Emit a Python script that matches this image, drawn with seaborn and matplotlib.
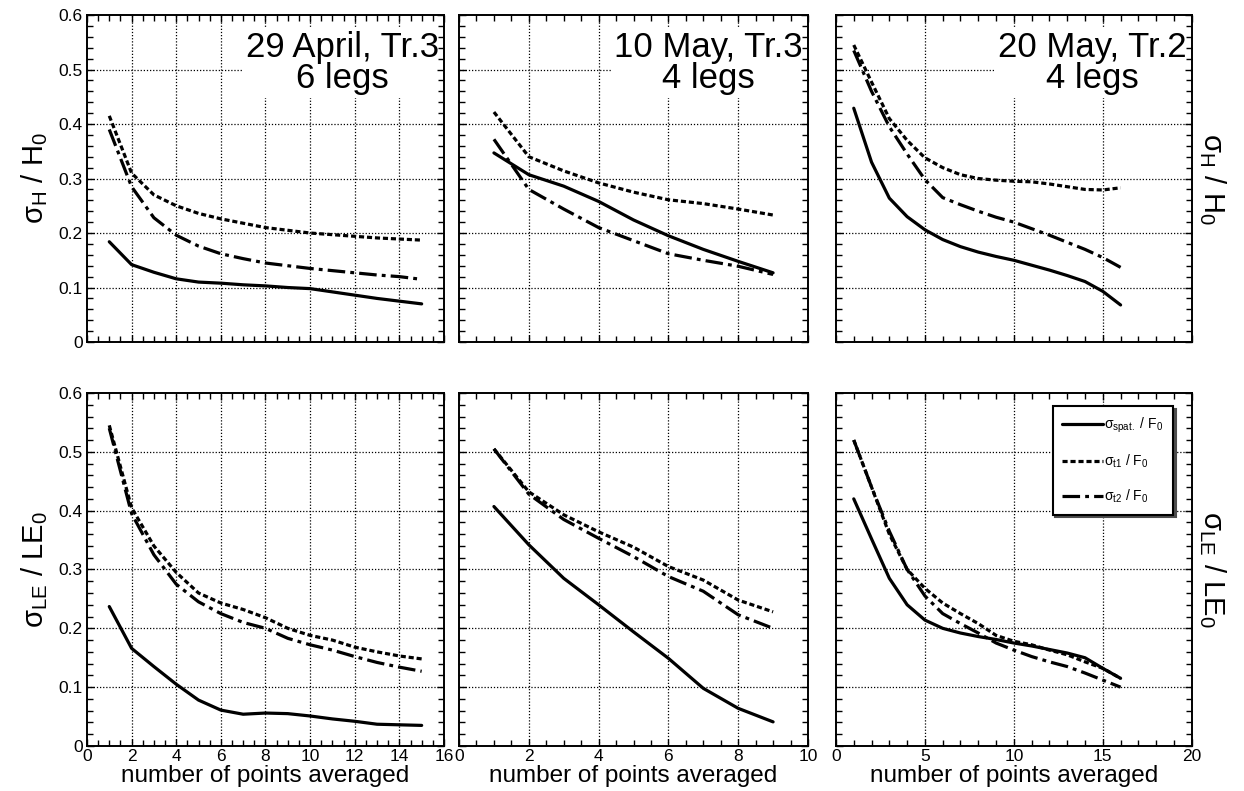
import numpy as np
import pandas as pd
import matplotlib
matplotlib.use('Agg')
import matplotlib.pyplot as plt
from matplotlib.ticker import MultipleLocator, FuncFormatter
import seaborn as sns

# number of points averaged, per campaign
x_apr = list(range(1, 16))
x_may10 = list(range(1, 10))
x_may20 = list(range(1, 17))

# sigma_H / H0 (top row)
h_apr_spat = [0.184, 0.142, 0.128, 0.116, 0.110, 0.108, 0.105, 0.103, 0.100, 0.098, 0.092, 0.086, 0.080, 0.075, 0.070]
h_apr_t1 = [0.415, 0.310, 0.270, 0.250, 0.236, 0.226, 0.218, 0.210, 0.205, 0.200, 0.197, 0.194, 0.191, 0.189, 0.187]
h_apr_t2 = [0.390, 0.285, 0.228, 0.196, 0.176, 0.162, 0.153, 0.145, 0.140, 0.135, 0.131, 0.127, 0.123, 0.120, 0.115]

h_m10_spat = [0.347, 0.307, 0.286, 0.258, 0.224, 0.195, 0.170, 0.148, 0.127]
h_m10_t1 = [0.422, 0.340, 0.314, 0.292, 0.275, 0.261, 0.254, 0.244, 0.233]
h_m10_t2 = [0.372, 0.280, 0.244, 0.210, 0.186, 0.162, 0.150, 0.139, 0.124]

h_m20_spat = [0.429, 0.330, 0.264, 0.230, 0.206, 0.188, 0.175, 0.165, 0.157, 0.150, 0.141, 0.132, 0.122, 0.111, 0.093, 0.068]
h_m20_t1 = [0.545, 0.477, 0.410, 0.370, 0.338, 0.320, 0.307, 0.300, 0.297, 0.295, 0.294, 0.290, 0.285, 0.280, 0.279, 0.283]
h_m20_t2 = [0.535, 0.460, 0.395, 0.345, 0.298, 0.265, 0.252, 0.240, 0.229, 0.220, 0.208, 0.196, 0.183, 0.170, 0.155, 0.137]

# sigma_LE / LE0 (bottom row)
le_apr_spat = [0.237, 0.166, 0.135, 0.105, 0.078, 0.061, 0.054, 0.056, 0.055, 0.051, 0.046, 0.042, 0.037, 0.036, 0.035]
le_apr_t1 = [0.545, 0.405, 0.340, 0.295, 0.260, 0.243, 0.232, 0.218, 0.200, 0.188, 0.180, 0.168, 0.160, 0.153, 0.148]
le_apr_t2 = [0.540, 0.395, 0.325, 0.275, 0.245, 0.225, 0.210, 0.200, 0.183, 0.172, 0.163, 0.152, 0.142, 0.134, 0.127]

le_m10_spat = [0.407, 0.342, 0.285, 0.240, 0.194, 0.149, 0.098, 0.064, 0.041]
le_m10_t1 = [0.505, 0.432, 0.393, 0.364, 0.338, 0.305, 0.282, 0.248, 0.228]
le_m10_t2 = [0.505, 0.428, 0.385, 0.353, 0.322, 0.288, 0.263, 0.223, 0.200]

le_m20_spat = [0.420, 0.352, 0.285, 0.240, 0.214, 0.200, 0.192, 0.186, 0.181, 0.175, 0.170, 0.164, 0.158, 0.150, 0.132, 0.115]
le_m20_t1 = [0.520, 0.440, 0.360, 0.300, 0.268, 0.243, 0.225, 0.208, 0.188, 0.178, 0.172, 0.163, 0.155, 0.143, 0.132, 0.115]
le_m20_t2 = [0.520, 0.440, 0.365, 0.300, 0.255, 0.225, 0.208, 0.192, 0.175, 0.163, 0.152, 0.143, 0.135, 0.124, 0.112, 0.100]

titles = ['29 April, Tr.3\n6 legs', '10 May, Tr.3\n4 legs', '20 May, Tr.2\n4 legs']
xlims = [16, 10, 20]
xmajor = [2, 2, 5]
xminor = [0.5, 0.5, 1]
series_labels = [r'σ$_\mathregular{spat.}$ / F$_\mathregular{0}$',
                 r'σ$_\mathregular{t1}$ / F$_\mathregular{0}$',
                 r'σ$_\mathregular{t2}$ / F$_\mathregular{0}$']
ylab_h = r'σ$_\mathregular{H}$ / H$_\mathregular{0}$'
ylab_le = r'σ$_\mathregular{LE}$ / LE$_\mathregular{0}$'

sns.set_style('ticks')
plt.rcParams['font.family'] = ['Liberation Sans', 'DejaVu Sans']
plt.rcParams['mathtext.default'] = 'regular'
for key in ['text.color', 'axes.labelcolor', 'xtick.color', 'ytick.color']:
    plt.rcParams[key] = 'black'

styles = ['-', (0, (1.6, 0.9)), (0, (5.5, 1.6, 1.2, 1.6))]

fig = plt.figure(figsize=(12.44, 7.91), dpi=100)
lefts = [0.0699, 0.369, 0.672]
widths = [0.287, 0.2805, 0.286]
top_row = [fig.add_axes([lefts[i], 0.5676, widths[i], 0.4134]) for i in range(3)]
bot_row = [fig.add_axes([lefts[i], 0.0569, widths[i], 0.4463]) for i in range(3)]

xs = [x_apr, x_may10, x_may20]
h_data = [[h_apr_spat, h_apr_t1, h_apr_t2],
          [h_m10_spat, h_m10_t1, h_m10_t2],
          [h_m20_spat, h_m20_t1, h_m20_t2]]
le_data = [[le_apr_spat, le_apr_t1, le_apr_t2],
           [le_m10_spat, le_m10_t1, le_m10_t2],
           [le_m20_spat, le_m20_t1, le_m20_t2]]

fmt = FuncFormatter(lambda v, p: '%g' % round(v, 3))

for row, (axes, data) in enumerate([(top_row, h_data), (bot_row, le_data)]):
    for col, ax in enumerate(axes):
        for k in range(3):
            sns.lineplot(x=xs[col], y=data[col][k], ax=ax, color='black',
                         linewidth=2.3, linestyle=styles[k], label=series_labels[k],
                         legend=False, zorder=2)
        ax.set_xlim(0, xlims[col])
        ax.set_ylim(0, 0.6)
        ax.xaxis.set_major_locator(MultipleLocator(xmajor[col]))
        ax.xaxis.set_minor_locator(MultipleLocator(xminor[col]))
        ax.yaxis.set_major_locator(MultipleLocator(0.1))
        ax.yaxis.set_minor_locator(MultipleLocator(0.02))
        ax.yaxis.set_major_formatter(fmt)
        ax.xaxis.set_major_formatter(fmt)
        ax.set_axisbelow(False)
        # dotted grid behind the title boxes
        for gx in np.arange(xmajor[col], xlims[col], xmajor[col]):
            ax.axvline(gx, color='black', linestyle=(0, (1, 1.5)), linewidth=0.9, zorder=0.6)
        for gy in np.arange(0.1, 0.6, 0.1):
            ax.axhline(gy, color='black', linestyle=(0, (1, 1.5)), linewidth=0.9, zorder=0.6)
        ax.tick_params(which='both', direction='in', top=True, right=True,
                       labelsize=12.5, width=1, pad=3)
        ax.tick_params(which='major', length=5)
        ax.tick_params(which='minor', length=4)
        for sp in ax.spines.values():
            sp.set_linewidth(1.4)
            sp.set_color('black')
        ax.set_xlabel('')
        ax.set_ylabel('')
        if row == 0:
            ax.tick_params(labelbottom=False)
            ax.text(0.985, 0.952, titles[col], transform=ax.transAxes, ha='right', va='top',
                    multialignment='center', fontsize=25, linespacing=0.92, zorder=1,
                    bbox=dict(boxstyle='square,pad=0.1', facecolor='white', edgecolor='none'))
        else:
            ax.tick_params(axis='x', pad=2)
            ax.set_xlabel('number of points averaged', fontsize=17.5, labelpad=1)
        if col > 0:
            ax.tick_params(labelleft=False)

top_row[0].set_ylabel(ylab_h, fontsize=21, labelpad=6)
bot_row[0].set_ylabel(ylab_le, fontsize=21, labelpad=6)
for ax, lab in [(top_row[2], ylab_h), (bot_row[2], ylab_le)]:
    ax.yaxis.set_label_position('right')
    ax.set_ylabel(lab, fontsize=21, rotation=270, labelpad=26)

handles, labels = bot_row[2].get_legend_handles_labels()
leg = bot_row[2].legend(handles, labels, loc='upper right', bbox_to_anchor=(0.947, 0.962),
                        fontsize=10, handlelength=2.9, handletextpad=0.1, labelspacing=1.25,
                        borderpad=0.7, borderaxespad=0, fancybox=False, framealpha=1,
                        edgecolor='black', shadow={'color': '0.3', 'alpha': 1})
leg.get_frame().set_linewidth(1.5)

fig.savefig('out.png', dpi=100)
